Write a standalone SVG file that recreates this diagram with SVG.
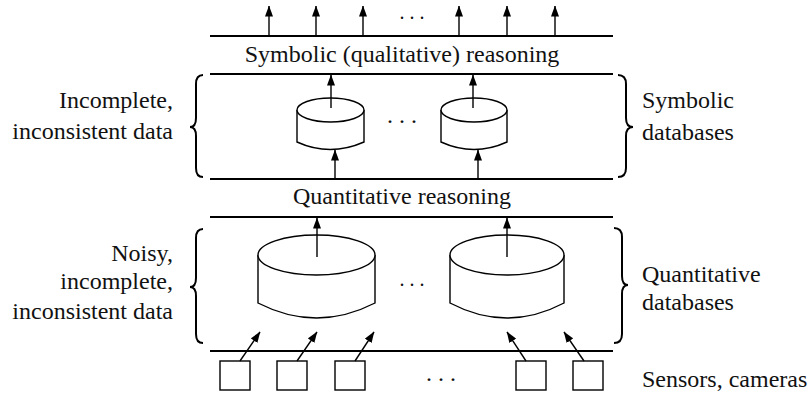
<svg xmlns="http://www.w3.org/2000/svg" width="810" height="395" viewBox="0 0 810 395">
<defs>
<marker id="ah" markerUnits="userSpaceOnUse" markerWidth="11" markerHeight="8" viewBox="0 0 11 8" refX="10.5" refY="4" orient="auto">
<path d="M0,0 L11,4 L0,8 Z" fill="#000"/>
</marker>
<style>
.t{font-family:"Liberation Serif","Times New Roman",serif;font-size:24px;fill:#111}
.d{font-family:"Liberation Serif","Times New Roman",serif;fill:#111}
.rule{stroke:#000;stroke-width:2.2;fill:none}
.cyl{stroke:#000;stroke-width:1.4;fill:#fff}
.br{stroke:#000;stroke-width:2;fill:none}
.arr{stroke:#000;stroke-width:1.4;fill:none}
.box{stroke:#000;stroke-width:1.4;fill:#fff}
</style>
</defs>
<rect width="810" height="395" fill="#fff"/>

<g id="layers">
<line class="rule" x1="210" y1="36" x2="613" y2="36"/>
<line class="rule" x1="210" y1="74" x2="613" y2="74"/>
<line class="rule" x1="210" y1="179" x2="613" y2="179"/>
<line class="rule" x1="210" y1="217" x2="613" y2="217"/>
<line class="rule" x1="210" y1="351" x2="613" y2="351"/>
</g>

<g id="symbolic-reasoning">
<text class="t" x="402" y="62" text-anchor="middle">Symbolic (qualitative) reasoning</text>
</g>
<g id="quantitative-reasoning">
<text class="t" x="402" y="204" text-anchor="middle">Quantitative reasoning</text>
</g>

<g id="symbolic-db-1">
<path class="cyl" d="M297,110 L297,142 Q330,157 364,142 L364,110"/>
<ellipse class="cyl" cx="330.5" cy="110" rx="33.5" ry="12"/>
</g>
<g id="symbolic-db-2">
<path class="cyl" d="M441,110 L441,142 Q474,157 507,142 L507,110"/>
<ellipse class="cyl" cx="474" cy="110" rx="33" ry="12"/>
</g>
<text class="d" x="402" y="123" font-size="24" text-anchor="middle">. . .</text>

<g id="quantitative-db-1">
<path class="cyl" d="M258,255 L258,303 Q316.5,333 375,303 L375,255"/>
<ellipse class="cyl" cx="316.5" cy="255" rx="58.5" ry="20"/>
</g>
<g id="quantitative-db-2">
<path class="cyl" d="M450,255 L450,303 Q507,333 564,303 L564,255"/>
<ellipse class="cyl" cx="507" cy="255" rx="57" ry="20"/>
</g>
<text class="d" x="412" y="286" font-size="20" text-anchor="middle">. . .</text>

<g id="sensors">
<rect class="box" x="220" y="361" width="30" height="29"/>
<rect class="box" x="277" y="361" width="30" height="29"/>
<rect class="box" x="335" y="361" width="30" height="29"/>
<rect class="box" x="516" y="361" width="30" height="29"/>
<rect class="box" x="573" y="361" width="30" height="29"/>
<text class="d" x="441" y="381" font-size="24" text-anchor="middle">. . .</text>
</g>

<g id="connectors">
<line class="arr" x1="269" y1="36" x2="269" y2="6" marker-end="url(#ah)"/>
<line class="arr" x1="316" y1="36" x2="316" y2="6" marker-end="url(#ah)"/>
<line class="arr" x1="363" y1="36" x2="363" y2="6" marker-end="url(#ah)"/>
<line class="arr" x1="459" y1="36" x2="459" y2="6" marker-end="url(#ah)"/>
<line class="arr" x1="507" y1="36" x2="507" y2="6" marker-end="url(#ah)"/>
<line class="arr" x1="555" y1="36" x2="555" y2="6" marker-end="url(#ah)"/>
<line class="arr" x1="331" y1="108" x2="331" y2="75" marker-end="url(#ah)"/>
<line class="arr" x1="473" y1="108" x2="473" y2="75" marker-end="url(#ah)"/>
<line class="arr" x1="335" y1="179" x2="335" y2="150" marker-end="url(#ah)"/>
<line class="arr" x1="478" y1="179" x2="478" y2="150" marker-end="url(#ah)"/>
<line class="arr" x1="317" y1="257" x2="317" y2="218" marker-end="url(#ah)"/>
<line class="arr" x1="507" y1="257" x2="507" y2="218" marker-end="url(#ah)"/>
<line class="arr" x1="240" y1="361" x2="260" y2="332" marker-end="url(#ah)"/>
<line class="arr" x1="297" y1="361" x2="317" y2="332" marker-end="url(#ah)"/>
<line class="arr" x1="355" y1="361" x2="374" y2="332" marker-end="url(#ah)"/>
<line class="arr" x1="526" y1="361" x2="507" y2="332" marker-end="url(#ah)"/>
<line class="arr" x1="584" y1="361" x2="564" y2="332" marker-end="url(#ah)"/>
</g>
<text class="d" x="412" y="19" font-size="20" text-anchor="middle">. . .</text>

<g id="label-incomplete">
<path class="br" d="M203,75 Q196,75 196,84 L196,118 Q196,127 190,127 Q196,127 196,136 L196,168 Q196,177 203,177"/>
<text class="t" x="173" y="108" text-anchor="end">Incomplete,</text>
<text class="t" x="173" y="139" text-anchor="end">inconsistent data</text>
</g>
<g id="label-noisy">
<path class="br" d="M203,229 Q196,229 196,238 L196,278 Q196,287 190,287 Q196,287 196,296 L196,334 Q196,343 203,343"/>
<text class="t" x="173" y="261" text-anchor="end">Noisy,</text>
<text class="t" x="173" y="289" text-anchor="end">incomplete,</text>
<text class="t" x="173" y="319" text-anchor="end">inconsistent data</text>
</g>
<g id="label-symbolic-db">
<path class="br" d="M618,75 Q626,75 626,84 L626,118 Q626,127 633,127 Q626,127 626,136 L626,168 Q626,177 618,177"/>
<text class="t" x="642" y="108">Symbolic</text>
<text class="t" x="642" y="140">databases</text>
</g>
<g id="label-quantitative-db">
<path class="br" d="M614,228 Q622,228 622,237 L622,276 Q622,285 628,285 Q622,285 622,294 L622,334 Q622,343 614,343"/>
<text class="t" x="642" y="282">Quantitative</text>
<text class="t" x="642" y="310">databases</text>
</g>
<g id="label-sensors">
<text class="t" x="642" y="387">Sensors, cameras</text>
</g>
</svg>
